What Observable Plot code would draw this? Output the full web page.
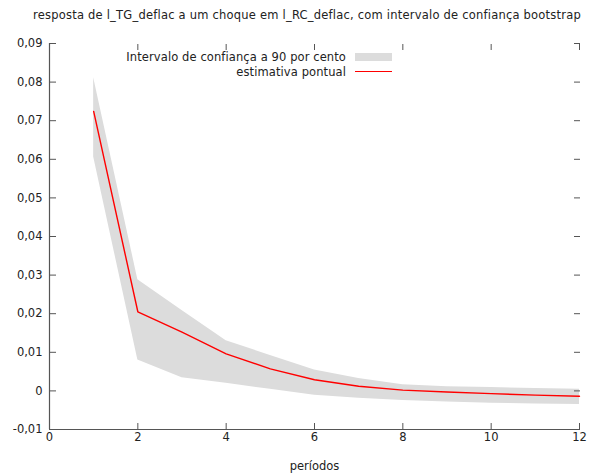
<!DOCTYPE html>
<html>
<head>
<meta charset="utf-8">
<script src="https://cdn.jsdelivr.net/npm/d3@7"></script>
<script src="https://cdn.jsdelivr.net/npm/@observablehq/plot@0.6"></script>
<style>
  body { margin: 0; background: #fff; font-family: "DejaVu Sans", sans-serif; color: #222; }
  #wrap { position: relative; width: 593px; }
  #title { height: 30px; position: relative; }
  #title span { position: absolute; left: 33px; top: 0; line-height: 30px; font-size: 11.5px; white-space: nowrap; }
  #legend { position: absolute; right: 201px; top: 49px; font-size: 11.5px; letter-spacing: 0.1px; }
  #legend .row { display: flex; align-items: center; justify-content: flex-end; height: 15px; }
  #legend .sw { width: 37px; margin-left: 9px; }
  #legend .band { height: 8px; background: #dcdcdc; }
  #legend .line { height: 1.5px; background: #ff0000; }
  svg { display: block; }
</style>
</head>
<body>
<div id="wrap">
  <div id="title"><span id="titletext">resposta de l_TG_deflac a um choque em l_RC_deflac, com intervalo de confiança bootstrap</span></div>
  <div id="legend">
    <div class="row"><span>Intervalo de confiança a 90 por cento</span><div class="sw band"></div></div>
    <div class="row"><span>estimativa pontual</span><div class="sw line"></div></div>
  </div>
</div>
<script>
// Impulse response horizon (periods)
const periods = [1, 2, 3, 4, 5, 6, 7, 8, 9, 10, 11, 12];
// Point estimate of the response
const estimate = [0.0724, 0.0205, 0.0152, 0.0096, 0.0057, 0.0029, 0.0012, 0.0002, -0.0003, -0.0007, -0.0011, -0.0014];
// 90% bootstrap confidence band
const upper = [0.0811, 0.0288, 0.0208, 0.0130, 0.0092, 0.0054, 0.0032, 0.0016, 0.0011, 0.0009, 0.0006, 0.0004];
const lower = [0.0606, 0.0080, 0.0034, 0.0020, 0.0004, -0.0011, -0.0019, -0.0025, -0.0029, -0.0032, -0.0034, -0.0035];
// Axis ticks
const xTicks = [0, 2, 4, 6, 8, 10, 12];
const yTicks = [-0.01, 0, 0.01, 0.02, 0.03, 0.04, 0.05, 0.06, 0.07, 0.08, 0.09];

// Spread the title over a 548px line
const title = document.getElementById("titletext");
const natural = title.getBoundingClientRect().width;
const chars = title.textContent.length;
title.style.letterSpacing = Math.max(0, (548 - natural) / chars) + "px";

const rows = periods.map((p, i) => ({p, est: estimate[i], lo: lower[i], hi: upper[i]}));
const fmt = d => d === 0 ? "0" : d.toFixed(2).replace(".", ",");
const axisColor = "#555";

const chart = Plot.plot({
  width: 593,
  height: 446,
  marginTop: 13,
  marginBottom: 47,
  marginLeft: 49,
  marginRight: 14,
  style: {fontFamily: "DejaVu Sans, sans-serif", fontSize: "11.5px", color: "#222", background: "#fff"},
  x: {domain: [0, 12]},
  y: {domain: [-0.01, 0.09]},
  marks: [
    Plot.areaY(rows, {x: "p", y1: "lo", y2: "hi", fill: "#dcdcdc"}),
    Plot.lineY(rows, {x: "p", y: "est", stroke: "#ff0000", strokeWidth: 1.4}),
    Plot.axisX(xTicks, {anchor: "bottom", tickSize: -6, tickPadding: 9, stroke: axisColor, tickFormat: d => String(d), label: "períodos", labelAnchor: "center", labelArrow: "none", labelOffset: 40}),
    Plot.axisX(xTicks, {anchor: "top", tickSize: -6, stroke: axisColor, tickFormat: () => "", label: null}),
    Plot.axisY(yTicks, {anchor: "left", tickSize: -7, tickPadding: 14, stroke: axisColor, tickFormat: fmt, label: null}),
    Plot.axisY(yTicks, {anchor: "right", tickSize: -6, stroke: axisColor, tickFormat: () => "", label: null}),
    Plot.ruleX([0], {stroke: axisColor, strokeWidth: 1.2}),
    Plot.ruleY([-0.01], {stroke: axisColor, strokeWidth: 1.2})
  ]
});
document.getElementById("wrap").appendChild(chart);
</script>
</body>
</html>
